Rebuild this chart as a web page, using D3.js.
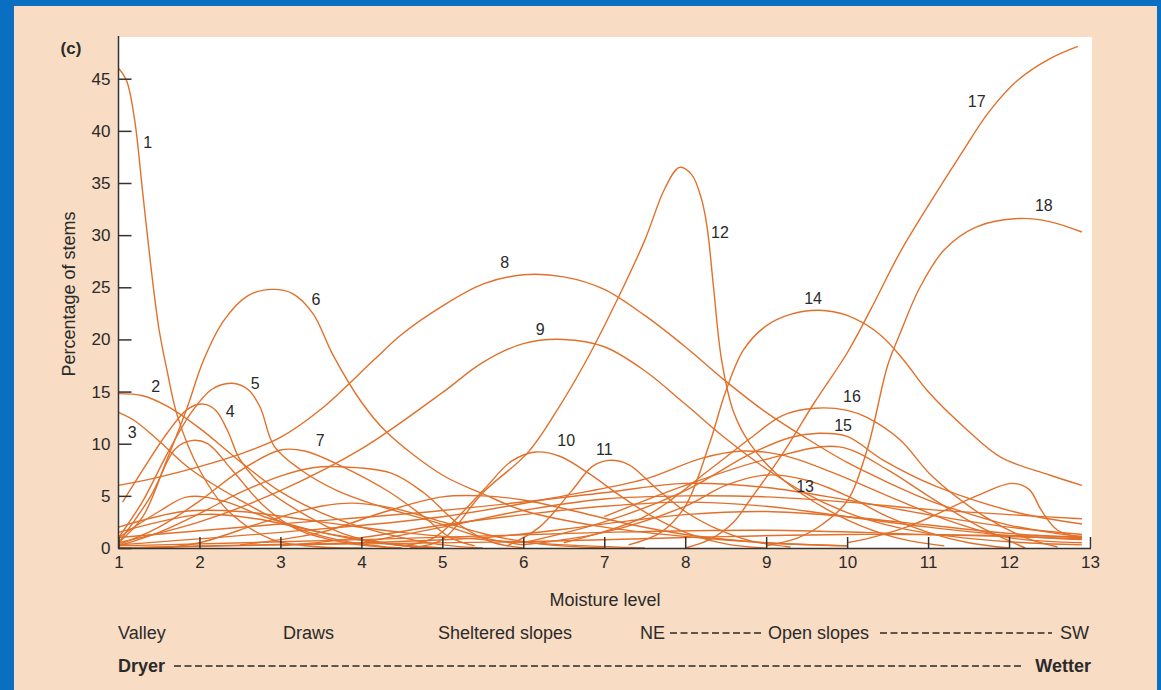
<!DOCTYPE html>
<html>
<head>
<meta charset="utf-8">
<script src="https://cdn.jsdelivr.net/npm/d3@7"></script>
<style>
  body { margin: 0; background: #0a6fc0; }
  svg { display: block; font-family: "Liberation Sans", Arial, sans-serif; }
</style>
</head>
<body>
<div id="chart"></div>
<script>
// axis ticks
const xTicks = d3.range(1, 14);
const yTicks = [0, 5, 10, 15, 20, 25, 30, 35, 40, 45];

// numbered curves, [moisture level, percentage of stems]
const c1 = [[1,46],[1.1,44.8],[1.2,41],[1.3,34],[1.4,27],[1.5,21],[1.6,17],[1.73,12.6],[2,7.5],[2.35,3.6],[2.9,0.8],[3.5,0.1],[4,0]];
const c2 = [[1,14.8],[1.3,14.6],[1.6,13.6],[2,11.5],[2.5,8.3],[3,5.4],[3.5,3.4],[4,2],[4.5,1],[5,0.3],[5.5,0]];
const c3 = [[1,13],[1.2,12.2],[1.48,10.4],[1.9,7.5],[2.5,4.6],[3.1,2.2],[3.7,0.8],[4.3,0.1]];
const c4 = [[1.05,4.4],[1.3,7.5],[1.6,11],[1.85,13.3],[2.05,13.8],[2.2,13.2],[2.35,11.2],[2.5,8.5],[2.8,5.8],[3.3,3.2],[3.8,1.3],[4.4,0.3],[5,0]];
const c5 = [[1,1],[1.3,4.5],[1.6,9],[1.9,13],[2.15,15.2],[2.4,15.8],[2.6,15.2],[2.75,13.5],[2.92,9.8],[3.25,7.5],[3.7,5.5],[4.15,4.2],[4.9,2.5],[5.5,1],[6,0.3]];
const c6 = [[1,0.5],[1.3,3],[1.6,8.5],[1.85,13.5],[2.05,18],[2.3,21.8],[2.6,24.2],[2.9,24.8],[3.15,24.4],[3.4,22.5],[3.65,18.5],[4,14],[4.3,11.2],[5,7],[5.5,5.2],[6,3.6],[7,2],[8,1.1],[9,0.5],[10,0.2]];
const c7 = [[1,0.3],[1.5,2],[2,4.5],[2.5,7.4],[3,9.4],[3.3,9.3],[3.74,7.9],[4.36,5.3],[4.77,3],[5.1,1],[5.4,0.2]];
const c8 = [[1,6],[1.5,6.8],[2,7.8],[2.5,9],[3,10.6],[3.5,13.3],[4.15,18],[4.5,20.5],[5,23.2],[5.5,25.3],[6,26.2],[6.5,26],[7,24.8],[7.5,22.3],[8,19.3],[8.5,16],[9,13],[9.5,10.5],[10,8.2],[10.5,6.3],[11,4.6],[11.5,3.3],[12,2.2],[12.5,1.5],[12.9,1.1]];
const c9 = [[1,0.5],[2,2.5],[3,5.5],[4,9.5],[5,14.9],[5.5,17.8],[6,19.6],[6.5,20],[7,19.3],[7.5,17],[8,13.8],[8.5,10.5],[9,7.6],[9.5,5.2],[10,3.4],[10.5,2.2],[11,1.4],[12,0.6],[12.9,0.3]];
const c10 = [[4.5,0.2],[4.9,1],[5.5,5.5],[5.85,8.3],[6.15,9.2],[6.45,8.8],[6.8,7.2],[7.2,5],[7.6,3],[8,1.5],[8.5,0.4],[9,0]];
const c11 = [[5.8,0.2],[6.2,2],[6.6,5.5],[6.85,7.8],[7.05,8.4],[7.3,8],[7.63,5.8],[8,3.5],[8.4,1.8],[8.8,0.7],[9.3,0.1]];
const c12 = [[4.6,0],[5,0.8],[5.5,5.3],[6.05,9.1],[6.4,13],[6.78,18],[7.16,23.8],[7.5,29.5],[7.75,34.5],[7.93,36.5],[8.08,35.8],[8.2,33.5],[8.27,30.8],[8.35,25],[8.45,18],[8.6,13],[8.8,10],[9.1,7.3],[9.42,5.3],[10,2.7],[10.6,1],[11.2,0.2]];
const c13 = [[4,0.5],[5,2],[6,3.6],[7,4.7],[8,5],[9,4.9],[10,4.4],[11,3.7],[12,3.2],[12.9,2.8]];
const c14 = [[7.3,0.3],[7.7,1.5],[8,4],[8.3,10],[8.5,15],[8.72,19],[9,21.3],[9.3,22.4],[9.65,22.8],[10,22.3],[10.4,20.5],[10.7,18],[11,15],[11.5,11.2],[11.9,8.7],[12.5,7],[12.9,6]];
const c15 = [[6,0.5],[7,2.5],[8,5.5],[8.8,9],[9.3,10.6],[9.65,11],[10,10.7],[10.45,8.4],[11.1,5.9],[12.1,3.4],[12.9,2.3]];
const c16 = [[6.5,0.5],[7.5,3],[8.3,7.5],[8.8,10.5],[9.2,12.7],[9.6,13.4],[10,13.2],[10.25,12.5],[10.65,10.4],[11.06,6.8],[11.7,3],[12.2,1],[12.6,0.1]];
const c17 = [[8,0],[8.3,0.8],[8.6,2.5],[8.8,4.6],[9.2,9],[9.6,14],[10,18.7],[10.3,23],[10.65,28.3],[11,32.8],[11.4,37.7],[11.75,41.8],[12.1,44.8],[12.5,46.9],[12.85,48.1]];
const c18 = [[9,0.2],[9.4,1],[9.7,2.3],[10,4.5],[10.25,9.5],[10.5,17.5],[10.65,20.5],[10.9,25],[11.2,28.6],[11.6,30.8],[12.13,31.6],[12.5,31.3],[12.9,30.3]];

// unnumbered curves in the tangle near the bottom
const u1 = [[1,0.5],[1.4,5],[1.7,9.5],[1.9,10.3],[2.1,10],[2.4,7.5],[2.8,4],[3.2,1.8],[3.8,0.5],[4.5,0]];
const u2 = [[1,0.2],[1.5,1.5],[2,3.3],[2.5,5.3],[3,6.9],[3.4,7.7],[3.7,7.8],[4.36,7.2],[4.77,5.3],[5.2,2.3],[5.6,0.6],[6,0]];
const u3 = [[1,1],[1.5,3.5],[1.85,4.9],[2.3,4.5],[2.8,3],[3.5,1.5],[4.2,0.5],[5,0]];
const u4 = [[1.5,0],[2,0.5],[2.8,2.5],[3.5,4],[3.9,4.3],[4.4,3.8],[5,2.5],[5.6,1.2],[6.2,0.4],[7,0]];
const u5 = [[2.5,0.3],[3.5,1.5],[4.3,3.5],[5,4.9],[5.5,5],[6,4.6],[6.6,3.6],[7.3,2.3],[8,1.3],[9,0.5],[10,0.2]];
const u6 = [[1,0.3],[3,1.5],[5,3],[6.5,5],[7.5,6.6],[8.2,8.6],[8.7,9.3],[9.2,8.9],[9.8,7.3],[10.5,5],[11.3,2.5],[12,1],[12.9,0.5]];
const u7 = [[1,1],[3,2.3],[5,3.6],[7,5.3],[8,6.2],[9,5.8],[10,4.6],[11,3.2],[12,2],[12.9,1.3]];
const u8 = [[1,0.2],[4,0.8],[7,1.5],[9,1.7],[11,1.3],[12.9,0.9]];
const u9 = [[1,0],[3,0.3],[6,0.6],[8,1],[10,1.3],[12.9,1.1]];
const u10 = [[1,1.5],[2,3.2],[2.7,2.8],[3.5,1.5],[4.5,0.3],[5,0]];
const u11 = [[6,0.3],[7,1.5],[8,4],[8.5,6],[9,7],[9.5,6.5],[10,5],[10.5,3],[11,1.5],[11.5,0.5],[12,0]];
const u12 = [[10,0.5],[10.3,1],[10.8,2.2],[11.15,3.4],[11.6,5],[12.04,6.2],[12.25,5.6],[12.4,3.6],[12.6,1.7],[12.9,1]];
const u13 = [[3,0.2],[4,1],[5,2.2],[6,3.2],[7,4],[8,4.4],[9,4],[10,3],[11,2],[12,1.2],[12.9,0.8]];
const u14 = [[7,3],[8,6],[9,8.5],[9.9,9.7],[10.5,7.5],[11,5],[11.6,2.2],[12.2,0]];
const u15 = [[1,0],[2,0.2],[4,0.5],[5.5,1],[6.5,1.8],[7.3,2.6],[8,3.2],[9,3.5],[10,3],[11,2.2],[12,1.4],[12.9,1]];
const u16 = [[1,2],[1.8,3.5],[2.5,3.5],[3.5,2.5],[4.5,1.5],[5.5,0.8],[6.5,0.3],[7.5,0]];

const numbered = [c1,c2,c3,c4,c5,c6,c7,c8,c9,c10,c11,c12,c13,c14,c15,c16,c17,c18];
const unnumbered = [u1,u2,u3,u4,u5,u6,u7,u8,u9,u10,u11,u12,u13,u14,u15,u16];

// curve numbers and where they sit (data coords)
const curveNames = ["1","2","3","4","5","6","7","8","9","10","11","12","13","14","15","16","17","18"];
const nameAt = [[1.36,38.9],[1.46,15.5],[1.17,11.1],[2.38,13.1],[2.69,15.8],[3.44,23.8],[3.49,10.3],[5.77,27.4],[6.21,21.0],[6.53,10.3],[7.0,9.5],[8.43,30.3],[9.48,5.95],[9.58,23.9],[9.95,11.8],[10.06,14.5],[11.6,42.8],[12.43,32.9]];

const W = 1161, H = 690;
const lineColor = "#e2702a";
const ink = "#2a2a2a";

const svg = d3.select("#chart").append("svg")
    .attr("width", W)
    .attr("height", H);

// beige panel
svg.append("rect")
    .attr("x", 14).attr("y", 6)
    .attr("width", 1143).attr("height", H - 6)
    .attr("fill", "#f8dcc3");

const x = d3.scaleLinear().domain([1, 13]).range([118.5, 1090]);
const y = d3.scaleLinear().domain([0, 49]).range([548, 37]);

// white plot area
svg.append("rect")
    .attr("x", 118).attr("y", 37)
    .attr("width", 1092 - 118).attr("height", 548 - 37)
    .attr("fill", "#fff");

svg.append("defs").append("clipPath").attr("id", "plotclip")
    .append("rect")
    .attr("x", 118).attr("y", 37)
    .attr("width", 1092 - 118).attr("height", 548 - 37 + 1);

const line = d3.line()
    .x(d => x(d[0]))
    .y(d => y(d[1]))
    .curve(d3.curveCatmullRom.alpha(0.5));

const g = svg.append("g").attr("clip-path", "url(#plotclip)");

g.selectAll("path.u")
    .data(unnumbered)
    .join("path")
    .attr("class", "u")
    .attr("d", line)
    .attr("fill", "none")
    .attr("stroke", lineColor)
    .attr("stroke-width", 1.4);

g.selectAll("path.c")
    .data(numbered)
    .join("path")
    .attr("class", "c")
    .attr("d", line)
    .attr("fill", "none")
    .attr("stroke", lineColor)
    .attr("stroke-width", 1.4);

// curve numbers
svg.selectAll("text.num")
    .data(curveNames)
    .join("text")
    .attr("class", "num")
    .attr("x", (d, i) => x(nameAt[i][0]))
    .attr("y", (d, i) => y(nameAt[i][1]))
    .attr("dy", "0.35em")
    .attr("text-anchor", "middle")
    .attr("font-size", 16)
    .attr("fill", ink)
    .text(d => d);

// axes
const yAxis = d3.axisLeft(y)
    .tickValues(yTicks)
    .tickSizeInner(-13)
    .tickSizeOuter(0)
    .tickPadding(8);

const xAxis = d3.axisBottom(x)
    .tickValues(xTicks)
    .tickSizeInner(-11)
    .tickSizeOuter(0)
    .tickPadding(8);

const gy = svg.append("g").attr("transform", "translate(118.5,0)").call(yAxis);
const gx = svg.append("g").attr("transform", "translate(0,548)").call(xAxis);

[gy, gx].forEach(a => {
    a.select(".domain").remove();
    a.selectAll("line").attr("stroke", "#333").attr("stroke-width", 1.5);
    a.selectAll("text").attr("font-size", 17).attr("fill", ink)
        .attr("font-family", "'Liberation Sans', Arial, sans-serif");
});

// axis lines
svg.append("line")
    .attr("x1", 118.5).attr("x2", 118.5)
    .attr("y1", 36).attr("y2", 548.5)
    .attr("stroke", "#333").attr("stroke-width", 1.5);
svg.append("line")
    .attr("x1", 118).attr("x2", 1091)
    .attr("y1", 548.5).attr("y2", 548.5)
    .attr("stroke", "#333").attr("stroke-width", 1.5);

// titles
svg.append("text")
    .attr("x", 71).attr("y", 54)
    .attr("text-anchor", "middle")
    .attr("font-size", 17).attr("font-weight", "bold")
    .attr("fill", ink)
    .text("(c)");

svg.append("text")
    .attr("transform", "translate(75,294) rotate(-90)")
    .attr("text-anchor", "middle")
    .attr("font-size", 18)
    .attr("fill", ink)
    .text("Percentage of stems");

svg.append("text")
    .attr("x", 605).attr("y", 606)
    .attr("text-anchor", "middle")
    .attr("font-size", 18)
    .attr("fill", ink)
    .text("Moisture level");

// site row
const row1 = 639, row2 = 672;
const siteText = [["Valley", 118], ["Draws", 283], ["Sheltered slopes", 438], ["NE", 640], ["Open slopes", 768], ["SW", 1060]];
svg.selectAll("text.site")
    .data(siteText)
    .join("text")
    .attr("class", "site")
    .attr("x", d => d[1]).attr("y", row1)
    .attr("font-size", 18)
    .attr("fill", ink)
    .text(d => d[0]);

const dash = (x1, x2, yy) => svg.append("line")
    .attr("x1", x1).attr("x2", x2)
    .attr("y1", yy).attr("y2", yy)
    .attr("stroke", ink).attr("stroke-width", 1.4)
    .attr("stroke-dasharray", "7,3.5");

dash(670, 762, row1 - 6);
dash(880, 1052, row1 - 6);

svg.append("text")
    .attr("x", 118).attr("y", row2)
    .attr("font-size", 18).attr("font-weight", "bold")
    .attr("fill", ink)
    .text("Dryer");
svg.append("text")
    .attr("x", 1091).attr("y", row2)
    .attr("text-anchor", "end")
    .attr("font-size", 18).attr("font-weight", "bold")
    .attr("fill", ink)
    .text("Wetter");
dash(174, 1021, row2 - 6);
</script>
</body>
</html>
